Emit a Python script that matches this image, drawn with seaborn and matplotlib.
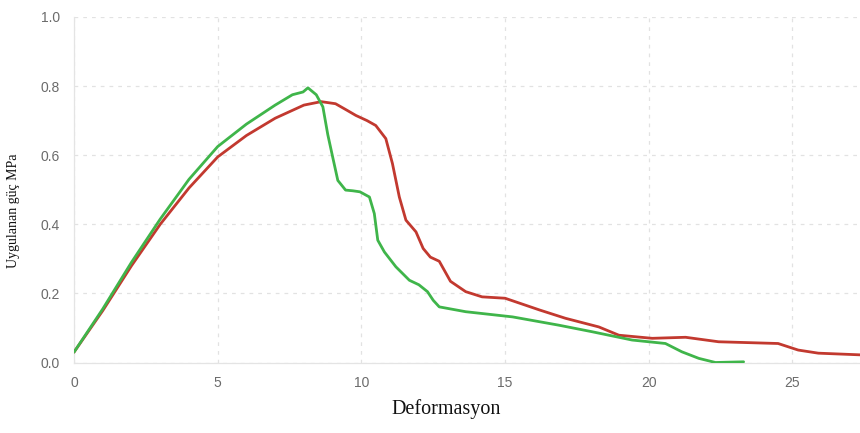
import numpy as np
import pandas as pd
import matplotlib
matplotlib.use("Agg")
import matplotlib.pyplot as plt
import seaborn as sns
from matplotlib.ticker import MultipleLocator

# Data
green_x = [0, 1.0, 2.0, 3.0, 4.0, 5.0, 6.0, 7.0, 7.6, 7.97,
           8.14, 8.43, 8.66, 8.83, 9.0, 9.18, 9.45, 9.7, 9.95, 10.28, 10.45, 10.57, 10.8,
           11.2, 11.67, 12.0, 12.3, 12.5, 12.71, 13.63, 15.26, 16.87, 18.03, 19.42,
           20.58, 21.15, 21.74, 22.32, 23.3]
green_y = [0.03, 0.155, 0.29, 0.415, 0.53, 0.625, 0.69, 0.745, 0.775, 0.783,
           0.795, 0.775, 0.74, 0.66, 0.595, 0.527, 0.499, 0.497, 0.494,
           0.479, 0.431, 0.354, 0.32, 0.277, 0.238, 0.225, 0.205, 0.18, 0.161, 0.147,
           0.132, 0.108, 0.089, 0.065, 0.055, 0.031, 0.012, 0.0, 0.002]

red_x = [0, 1.0, 2.0, 3.0, 4.0, 5.0, 6.0, 7.0, 8.0, 8.6,
         9.1, 9.5, 9.81, 10.2, 10.5, 10.85, 11.08, 11.32, 11.55, 11.9, 12.15, 12.4,
         12.71, 13.1, 13.63, 14.2, 15.0, 16.2, 17.1, 18.26, 18.96, 20.12, 21.28, 22.43,
         24.5, 25.2, 25.9, 27.4]
red_y = [0.03, 0.15, 0.28, 0.40, 0.505, 0.595, 0.657, 0.707, 0.745, 0.755,
         0.749, 0.73, 0.715, 0.70, 0.686, 0.648, 0.576, 0.479, 0.412,
         0.378, 0.33, 0.305, 0.293, 0.235, 0.205, 0.19, 0.186, 0.152, 0.128, 0.103,
         0.079, 0.07, 0.073, 0.06, 0.055, 0.036, 0.027, 0.022]

x_ticks = [0, 5, 10, 15, 20, 25]
y_ticks = [0.0, 0.2, 0.4, 0.6, 0.8, 1.0]
x_label = "Deformasyon"
y_label = "Uygulanan güç MPa"

sns.set_theme(style="white")

fig = plt.figure(figsize=(8.6, 4.33), dpi=100)
ax = fig.add_axes([74 / 860, 70.5 / 433, 1 - 74 / 860, (362.5 - 17) / 433])

df_r = pd.DataFrame({"x": red_x, "y": red_y})
df_g = pd.DataFrame({"x": green_x, "y": green_y})
sns.lineplot(data=df_r, x="x", y="y", ax=ax, color="#c2392f", lw=2.0, sort=False,
             estimator=None, zorder=3)
sns.lineplot(data=df_g, x="x", y="y", ax=ax, color="#3fb54a", lw=2.0, sort=False,
             estimator=None, zorder=4)

ax.set_xlim(0, 27.35)
ax.set_ylim(0, 1.0)
ax.set_xticks(x_ticks)
ax.set_yticks(y_ticks)
ax.set_yticklabels([f"{v:.1f}" for v in y_ticks])
ax.xaxis.set_minor_locator(MultipleLocator(1))
ax.yaxis.set_minor_locator(MultipleLocator(0.1))

ax.grid(True, which="major", linestyle=(0, (3, 4)), color="#e2e2e2", lw=0.9)
for s in ["top", "right"]:
    ax.spines[s].set_visible(False)
for s in ["left", "bottom"]:
    ax.spines[s].set_color("#e4e4e4")
    ax.spines[s].set_linewidth(0.9)

ax.tick_params(axis="both", which="major", colors="#e0e0e0", labelcolor="#6b6b6b",
               length=4, direction="inout", width=0.8, labelsize=10)
ax.tick_params(axis="both", which="minor", colors="#e6e6e6", length=3,
               direction="inout", width=0.8)
ax.tick_params(axis="x", which="major", pad=8)
ax.tick_params(axis="y", which="major", pad=8)
for lab in ax.get_xticklabels() + ax.get_yticklabels():
    lab.set_family(["Liberation Sans", "DejaVu Sans"])

ax.set_xlabel(x_label, family=["Liberation Serif", "DejaVu Serif"], fontsize=14.5,
              color="#111111")
ax.set_ylabel(y_label, family=["Liberation Serif", "DejaVu Serif"], fontsize=10,
              color="#111111")
ax.xaxis.set_label_coords(0.473, -0.105)
ax.yaxis.set_label_coords(-0.069, 0.44)

fig.savefig("out.png", dpi=100)
